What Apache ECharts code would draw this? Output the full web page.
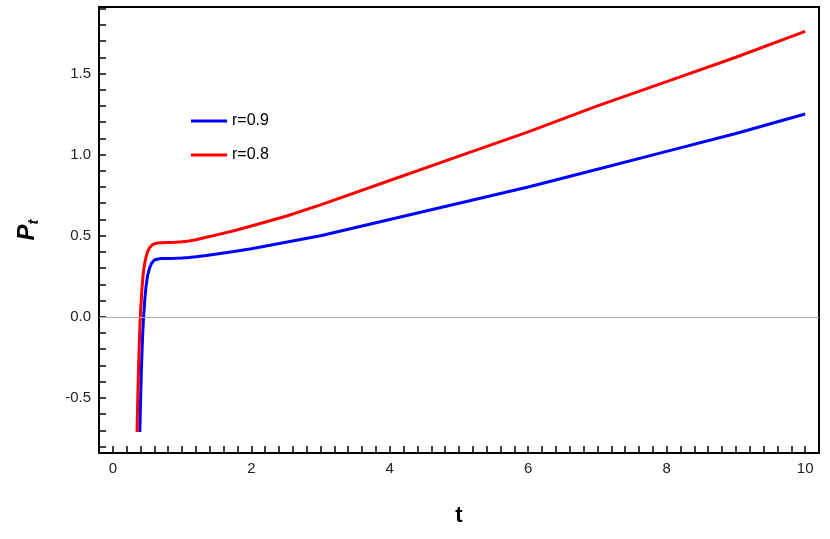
<!DOCTYPE html><html><head><meta charset="utf-8">
<script src="https://cdn.jsdelivr.net/npm/echarts@6/dist/echarts.min.js"></script>
<style>html,body{margin:0;padding:0;background:#fff}#c{width:830px;height:539px}</style></head><body><div id="c"></div>
<script>
const redT=[0.35,0.36,0.37,0.38,0.39,0.4,0.42,0.44,0.46,0.48,0.5,0.53,0.56,0.6,0.65,0.7,0.8,0.9,1.0,1.1,1.2,1.35,1.5,1.75,2,2.5,3,4,5,6,7,8,9,10];
const redY=[-0.71,-0.5,-0.33,-0.19,-0.07,0.03,0.17,0.27,0.33,0.37,0.4,0.425,0.44,0.45,0.455,0.457,0.458,0.459,0.462,0.467,0.475,0.49,0.505,0.53,0.56,0.62,0.69,0.84,0.99,1.14,1.3,1.45,1.6,1.76];
const blueT=[0.39,0.4,0.41,0.42,0.43,0.44,0.46,0.48,0.5,0.53,0.56,0.6,0.65,0.7,0.8,0.9,1.0,1.1,1.2,1.35,1.5,1.75,2,2.5,3,4,5,6,7,8,9,10];
const blueY=[-0.71,-0.52,-0.36,-0.23,-0.12,-0.03,0.1,0.19,0.25,0.3,0.33,0.35,0.356,0.359,0.36,0.361,0.363,0.366,0.37,0.378,0.387,0.403,0.42,0.46,0.5,0.6,0.7,0.8,0.91,1.02,1.13,1.25];
const zip=(a,b)=>a.map((v,i)=>[v,b[i]]);
const xTicks=[0,2,4,6,8,10];
const xMinor=[];for(let i=0;i<=50;i++){const v=+(i*0.2).toFixed(1);if(v%2)xMinor.push(v);}
const yTicks=[-0.5,0,0.5,1,1.5];
const F='Liberation Sans';
const line={onZero:false,lineStyle:{color:'#000',width:2}};
const lab={color:'#222',fontSize:15,fontFamily:F};
const c=echarts.init(document.getElementById('c'));
c.setOption({animation:false,
grid:{left:99,right:11,top:7,bottom:86,show:true,borderColor:'#000',borderWidth:2},
legend:{orient:'vertical',left:186,top:108,itemGap:18,itemWidth:36,itemHeight:3,icon:'rect',textStyle:{fontSize:16,fontFamily:F,color:'#000'},data:['r=0.9','r=0.8']},
xAxis:{type:'value',min:-0.2,max:10.2,name:'t',nameLocation:'middle',nameGap:52,nameTextStyle:{fontSize:22,fontWeight:'bold',fontFamily:F,color:'#000'},
 axisLine:line,splitLine:{show:false},
 axisLabel:Object.assign({customValues:xTicks},lab),
 axisTick:{inside:true,length:7,customValues:xTicks.concat(xMinor),lineStyle:{color:'#000',width:1.5}}},
yAxis:{type:'value',min:-0.84,max:1.91,name:'{a|P}{b|t}',nameLocation:'middle',nameGap:58,nameRotate:90,
 nameTextStyle:{rich:{a:{fontSize:24,fontWeight:'bold',fontStyle:'italic',fontFamily:F,color:'#000'},b:{fontSize:15,fontWeight:'bold',fontStyle:'italic',fontFamily:F,color:'#000',verticalAlign:'bottom',padding:[12,0,0,0]}}},
 axisLine:line,splitLine:{show:false},
 axisLabel:Object.assign({customValues:yTicks,formatter:v=>v.toFixed(1)},lab),
 axisTick:{inside:true,length:7,customValues:[-0.8,-0.7,-0.6,-0.5,-0.4,-0.3,-0.2,-0.1,0,0.1,0.2,0.3,0.4,0.5,0.6,0.7,0.8,0.9,1,1.1,1.2,1.3,1.4,1.5,1.6,1.7,1.8,1.9],lineStyle:{color:'#000',width:1.5}}},
series:[
{name:'r=0.9',type:'line',data:zip(blueT,blueY),smooth:false,showSymbol:false,lineStyle:{color:'#0000ff',width:3},itemStyle:{color:'#0000ff'},
 markLine:{silent:true,symbol:'none',label:{show:false},lineStyle:{color:'#aaa',width:1,type:'solid'},data:[{yAxis:0}]}},
{name:'r=0.8',type:'line',data:zip(redT,redY),smooth:false,showSymbol:false,lineStyle:{color:'#ff0000',width:3},itemStyle:{color:'#ff0000'}}
]});
</script></body></html>
